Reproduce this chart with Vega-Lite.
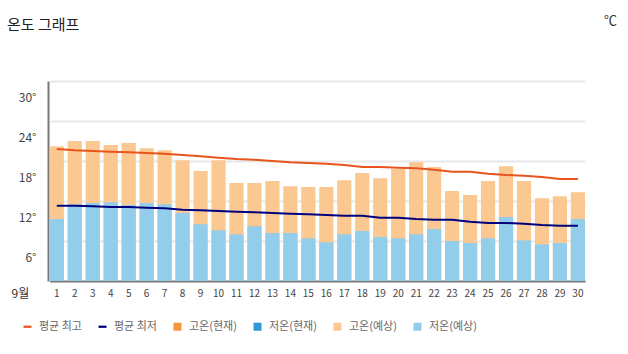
{
  "$schema": "https://vega.github.io/schema/vega-lite/v6.json",
  "width": 597,
  "height": 200,
  "autosize": "none",
  "padding": {"left": 10, "top": 81, "right": 21, "bottom": 73},
  "background": "white",
  "title": {"text": "온도 그래프", "anchor": "start", "frame": "group", "fontSize": 15, "fontWeight": "normal", "color": "#222", "font": "Noto Sans CJK KR", "baseline": "alphabetic", "offset": -31, "dx": -3},
  "config": {
    "view": {"stroke": null},
    "font": "Noto Sans CJK KR"
  },
  "data": {"values": [
    {"day": 1, "high": 22.6, "low": 11.7, "avgMax": 22.2, "avgMin": 13.7},
    {"day": 2, "high": 23.4, "low": 13.9, "avgMax": 22.0, "avgMin": 13.7},
    {"day": 3, "high": 23.4, "low": 14.1, "avgMax": 21.9, "avgMin": 13.6},
    {"day": 4, "high": 22.8, "low": 14.2, "avgMax": 21.8, "avgMin": 13.5},
    {"day": 5, "high": 23.1, "low": 13.8, "avgMax": 21.7, "avgMin": 13.5},
    {"day": 6, "high": 22.3, "low": 14.1, "avgMax": 21.6, "avgMin": 13.4},
    {"day": 7, "high": 22.0, "low": 13.9, "avgMax": 21.5, "avgMin": 13.3},
    {"day": 8, "high": 20.5, "low": 12.6, "avgMax": 21.3, "avgMin": 13.1},
    {"day": 9, "high": 18.9, "low": 10.9, "avgMax": 21.1, "avgMin": 13.0},
    {"day": 10, "high": 20.5, "low": 10.0, "avgMax": 20.9, "avgMin": 12.9},
    {"day": 11, "high": 17.1, "low": 9.4, "avgMax": 20.7, "avgMin": 12.8},
    {"day": 12, "high": 17.1, "low": 10.6, "avgMax": 20.6, "avgMin": 12.7},
    {"day": 13, "high": 17.4, "low": 9.6, "avgMax": 20.4, "avgMin": 12.6},
    {"day": 14, "high": 16.6, "low": 9.6, "avgMax": 20.2, "avgMin": 12.5},
    {"day": 15, "high": 16.5, "low": 8.8, "avgMax": 20.1, "avgMin": 12.4},
    {"day": 16, "high": 16.5, "low": 8.2, "avgMax": 20.0, "avgMin": 12.3},
    {"day": 17, "high": 17.5, "low": 9.4, "avgMax": 19.8, "avgMin": 12.2},
    {"day": 18, "high": 18.6, "low": 9.9, "avgMax": 19.5, "avgMin": 12.2},
    {"day": 19, "high": 17.8, "low": 9.0, "avgMax": 19.5, "avgMin": 11.9},
    {"day": 20, "high": 19.2, "low": 8.8, "avgMax": 19.4, "avgMin": 11.9},
    {"day": 21, "high": 20.2, "low": 9.4, "avgMax": 19.3, "avgMin": 11.7},
    {"day": 22, "high": 19.5, "low": 10.2, "avgMax": 19.1, "avgMin": 11.6},
    {"day": 23, "high": 15.9, "low": 8.4, "avgMax": 18.8, "avgMin": 11.6},
    {"day": 24, "high": 15.3, "low": 8.1, "avgMax": 18.8, "avgMin": 11.3},
    {"day": 25, "high": 17.4, "low": 8.8, "avgMax": 18.5, "avgMin": 11.1},
    {"day": 26, "high": 19.6, "low": 12.0, "avgMax": 18.3, "avgMin": 11.1},
    {"day": 27, "high": 17.4, "low": 8.5, "avgMax": 18.2, "avgMin": 11.0},
    {"day": 28, "high": 14.8, "low": 7.9, "avgMax": 18.0, "avgMin": 10.8},
    {"day": 29, "high": 15.1, "low": 8.1, "avgMax": 17.7, "avgMin": 10.7},
    {"day": 30, "high": 15.7, "low": 11.7, "avgMax": 17.7, "avgMin": 10.7}
  ]},
  "encoding": {
    "x": {
      "field": "day", "type": "ordinal",
      "scale": {"range": [39.7, 575], "paddingInner": 0.21, "paddingOuter": 0},
      "axis": {
        "title": "9월", "titleX": 1, "titleY": 12, "titleAlign": "left", "titleBaseline": "middle",
        "titleFontSize": 12, "titleFontWeight": "normal", "titleColor": "#333",
        "labelAngle": 0, "labelFontSize": 10, "labelColor": "#444", "labelPadding": 7,
        "ticks": false, "domainColor": "#777", "domainWidth": 2, "grid": false
      }
    }
  },
  "layer": [
    {
      "mark": {"type": "bar", "clip": true},
      "encoding": {
        "y": {
          "field": "high", "type": "quantitative",
          "scale": {"domain": [2.4, 32.4], "nice": false, "zero": false},
          "axis": {
            "title": "℃", "titleAngle": 0, "titleX": 562, "titleY": -61, "titleAlign": "center", "titleBaseline": "middle",
            "titleFontSize": 13, "titleFontWeight": "normal", "titleColor": "#333",
            "offset": -38,
            "values": [8.4, 14.4, 20.4, 26.4, 32.4],
            "labelExpr": "round(datum.value - 2.4) + '°'",
            "labelOffset": 16,
            "labelFontSize": 12, "labelColor": "#444", "labelPadding": 12,
            "ticks": false, "tickSize": 0,
            "domainColor": "#777", "domainWidth": 2,
            "grid": true, "gridWidth": 2, "gridColor": "#e8e8e8"
          }
        },
        "color": {
          "datum": "고온(예상)",
          "scale": {
            "domain": ["평균 최고", "평균 최저", "고온(현재)", "저온(현재)", "고온(예상)", "저온(예상)"],
            "range": ["#e8541e", "#00007f", "#f7963a", "#2b9ad7", "#fac890", "#93cdea"]
          },
          "legend": {
            "orient": "none", "legendX": 12, "legendY": 240, "direction": "horizontal", "columns": 6,
            "title": null, "labelFontSize": 11, "labelColor": "#666", "labelOffset": 6,
            "symbolSize": 64, "columnPadding": 15,
            "encode": {
              "symbols": {
                "update": {
                  "shape": {"signal": "indexof(['평균 최고','평균 최저'], datum.value) >= 0 ? 'M-1,-0.28H1V0.28H-1Z' : 'square'"},
                  "fill": {"signal": "scale('color', datum.value)"},
                  "stroke": {"value": "transparent"},
                  "strokeWidth": {"value": 0},
                  "opacity": {"value": 1}
                }
              }
            }
          }
        }
      }
    },
    {
      "mark": {"type": "bar", "clip": true},
      "encoding": {
        "y": {"field": "low", "type": "quantitative"},
        "color": {"datum": "저온(예상)"}
      }
    },
    {
      "mark": {"type": "line", "strokeWidth": 2},
      "encoding": {
        "y": {"field": "avgMax", "type": "quantitative"},
        "color": {"datum": "평균 최고"}
      }
    },
    {
      "mark": {"type": "line", "strokeWidth": 2},
      "encoding": {
        "y": {"field": "avgMin", "type": "quantitative"},
        "color": {"datum": "평균 최저"}
      }
    }
  ]
}
